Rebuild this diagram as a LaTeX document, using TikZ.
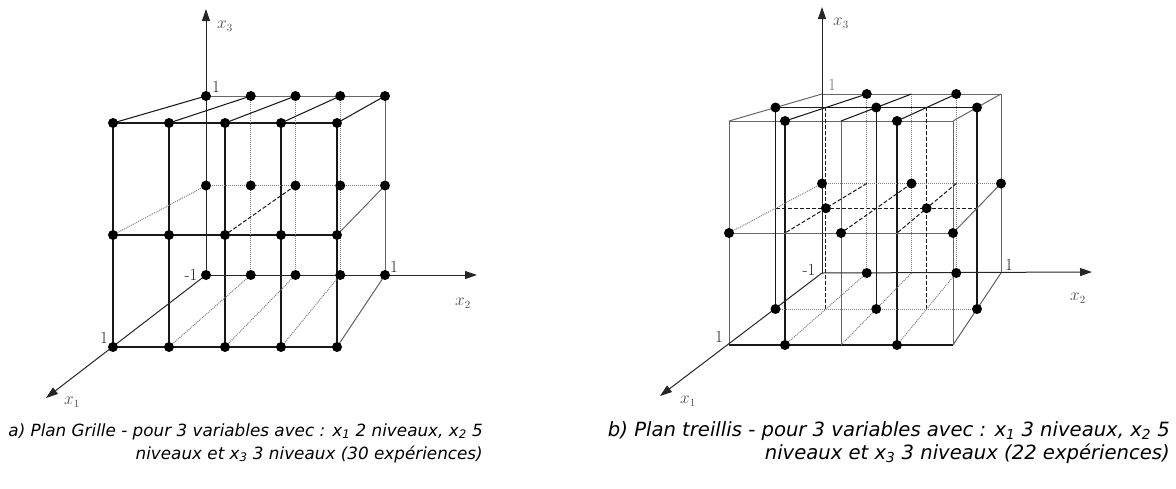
\documentclass[tikz,border=0pt]{standalone}
\usepackage{fontspec}
\newfontfamily\capfont{DejaVu Sans}
\usetikzlibrary{arrows.meta}
\begin{document}
\begin{tikzpicture}[x=1pt,y=-1pt,
  fr/.style={line width=1.05pt, black!90},
  gr/.style={line width=1pt, black!60},
  dt/.style={line width=1pt, black!50, densely dotted},
  dsh/.style={line width=1pt, black!90, dash pattern=on 4pt off 2pt},
  axis/.style={line width=1pt, black!85, -{Triangle[length=12pt,width=8pt]}},
  dot/.style={circle, fill=black, inner sep=0pt, minimum size=10pt},
  lab/.style={font=\fontsize{17}{17}\selectfont, text=black!85, inner sep=0pt},
  axlab/.style={font=\fontsize{16}{16}\selectfont, text=black!70, inner sep=0pt},
  capa/.style={font=\capfont\itshape\fontsize{16.8}{20}\selectfont, inner sep=0pt, anchor=base east},
  capb/.style={font=\capfont\itshape\fontsize{19.6}{22}\selectfont, inner sep=0pt, anchor=base east}
]
\useasboundingbox (0,0) rectangle (1176,488);
% coordinates: i = plane (0 back, 1 middle, 2 front), j = x2 level, k = x3 level (0 bottom)
\foreach \i in {0,1,2}{
  \foreach \j in {0,...,4}{
    \foreach \k in {0,1,2}{
      \pgfmathsetmacro\S{179+22.5*\i}
      \pgfmathsetmacro\X{206-46.5*\i+\S*\j/4}
      \pgfmathsetmacro\Y{96+13.5*\i+\S*(2-\k)/2}
      \pgfmathsetmacro\XB{\X+616}
      \pgfmathsetmacro\YB{\Y-2}
      \coordinate (a\i\j\k) at (\X,\Y);
      \coordinate (b\i\j\k) at (\XB,\YB);
    }
  }
}
% ---------------- figure a ----------------
\foreach \j in {0,...,4} \draw[fr] (a2\j0) -- (a2\j2);
\foreach \k in {0,1,2} \draw[fr] (a20\k) -- (a24\k);
\foreach \j in {1,2,3} \draw[dt] (a0\j0) -- (a0\j2);
\draw[gr] (a040) -- (a042);
\draw[gr] (a002) -- (a042);
\draw[dt] (a001) -- (a041);
\foreach \j in {0,...,4} \draw[fr] (a0\j2) -- (a2\j2);
\draw[dt] (a001) -- (a201);
\draw[dsh] (a021) -- (a221);
\draw[gr] (a041) -- (a241);
\foreach \j in {1,2,3} \draw[dt] (a0\j0) -- (a2\j0);
\draw[gr] (a040) -- (a240);
\coordinate (a3end) at (206,9);
\coordinate (a2end) at (477,275);
\coordinate (a1end) at (46,398);
\draw[axis] (a000) -- (a3end);
\draw[axis] (a000) -- (a2end);
\draw[axis] (a000) -- (a1end);
\foreach \i in {0,2}{\foreach \j in {0,...,4}{\foreach \k in {0,1,2}{
  \node[dot] (da\i\j\k) at (a\i\j\k) {};
}}}
\node[axlab] (la3) at (225,26) {$x_3$};
\node[axlab] (la2) at (463,303) {$x_2$};
\node[axlab] (la1) at (72,402) {$x_1$};
\node[lab] (lat) at (216,87) {1};
\node[lab] (lam) at (191,275) {-1};
\node[lab] (lar) at (394,267) {1};
\node[lab] (laf) at (104,338) {1};
% ---------------- figure b ----------------
% front plane
\foreach \j in {0,2,4} \draw[gr] (b2\j0) -- (b2\j2);
\foreach \j in {1,3} \draw[fr] (b2\j0) -- (b2\j2);
\draw[gr] (b202) -- (b242);
\draw[gr] (b201) -- (b241);
\draw[fr] (b200) -- (b240);
% middle plane
\foreach \j in {0,2,4} \draw[fr] (b1\j0) -- (b1\j2);
\foreach \j in {1,3} \draw[dsh] (b1\j0) -- (b1\j2);
\draw[fr] (b102) -- (b142);
\draw[dsh] (b101) -- (b141);
\draw[dt] (b100) -- (b140);
% back plane
\foreach \j in {1,2,3} \draw[dt] (b0\j0) -- (b0\j2);
\draw[gr] (b040) -- (b042);
\draw[gr] (b002) -- (b042);
\draw[dt] (b001) -- (b041);
% depth lines
\foreach \j in {0,4} \draw[gr] (b0\j2) -- (b2\j2);
\foreach \j in {1,2,3} \draw[fr] (b0\j2) -- (b2\j2);
\draw[dt] (b001) -- (b201);
\foreach \j in {1,2,3} \draw[dsh] (b0\j1) -- (b2\j1);
\draw[gr] (b041) -- (b241);
\foreach \j in {1,2,3} \draw[dt] (b0\j0) -- (b2\j0);
\draw[gr] (b040) -- (b240);
\coordinate (b3end) at (822,7);
\coordinate (b2end) at (1092,272);
\coordinate (b1end) at (660,396);
\draw[axis] (b000) -- (b3end);
\draw[axis] (b000) -- (b2end);
\draw[axis] (b000) -- (b1end);
\foreach \i/\j/\k in {0/1/2,0/3/2,0/0/1,0/2/1,0/4/1,0/1/0,0/3/0,
                      1/0/2,1/2/2,1/4/2,1/1/1,1/3/1,1/0/0,1/2/0,1/4/0,
                      2/1/2,2/3/2,2/0/1,2/2/1,2/4/1,2/1/0,2/3/0}{
  \node[dot] (db\i\j\k) at (b\i\j\k) {};
}
\node[axlab] (lb3) at (841,23) {$x_3$};
\node[axlab] (lb2) at (1078,298) {$x_2$};
\node[axlab] (lb1) at (688,401) {$x_1$};
\node[lab, text=black!55] (lbt) at (832,85) {1};
\node[lab] (lbm) at (809,270) {-1};
\node[lab] (lbr) at (1009,265) {1};
\node[lab] (lbf) at (719,337) {1};
% ---------------- captions ----------------
\node[capa] (capa1) at (483,436) {a) Plan Grille - pour 3 variables avec : x\textsubscript{1} 2 niveaux, x\textsubscript{2} 5};
\node[capa] (capa2) at (483,459) {niveaux et x\textsubscript{3} 3 niveaux (30 expériences)};
\node[capb] (capb1) at (1170,436) {b) Plan treillis - pour 3 variables avec : x\textsubscript{1} 3 niveaux, x\textsubscript{2} 5};
\node[capb] (capb2) at (1170,459) {niveaux et x\textsubscript{3} 3 niveaux (22 expériences)};
\end{tikzpicture}
\end{document}
